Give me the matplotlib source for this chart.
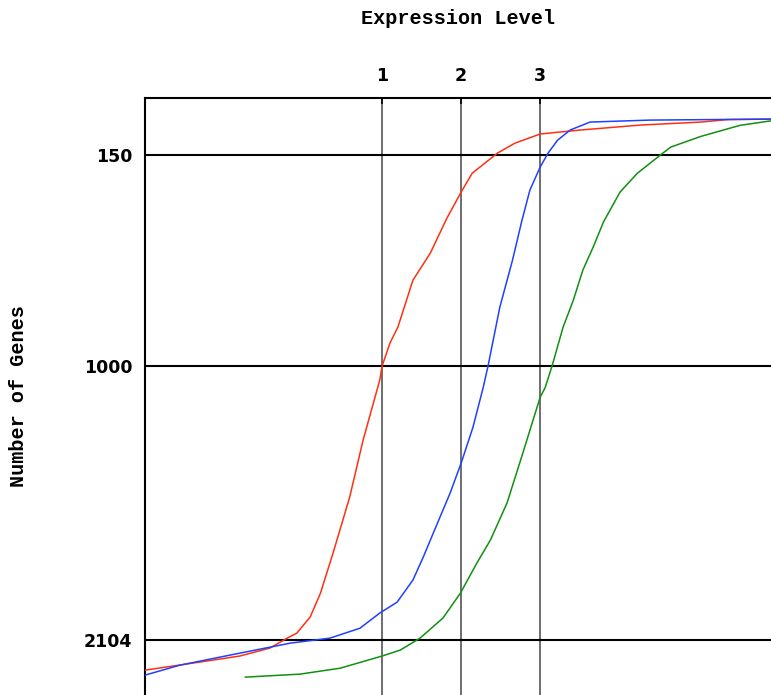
import matplotlib
matplotlib.use('Agg')
import matplotlib.pyplot as plt

# cumulative gene counts against expression level, one curve per sample
red_x = [-2.0, -1.30, -0.80, -0.42, -0.20, -0.08, 0.09, 0.22, 0.38, 0.59, 0.76, 0.97,
         1.0, 1.10, 1.20, 1.39, 1.61, 1.82, 2.0, 2.14, 2.46, 2.68, 3.0, 3.51, 4.27,
         5.03, 5.37, 5.92]
red_n = [2225, 2192, 2168, 2136, 2096, 2076, 2011, 1915, 1753, 1528, 1298, 1057,
         1000, 907, 843, 654, 545, 404, 299, 223, 142, 102, 65, 49, 29,
         17, 7, 5]

blue_x = [-2.0, -1.56, -0.92, -0.16, 0.34, 0.72, 0.97, 1.19, 1.39, 1.52, 1.70, 1.86,
          2.0, 2.15, 2.28, 2.34, 2.49, 2.65, 2.77, 2.87, 3.0, 3.10, 3.22, 3.38,
          3.63, 4.39, 5.92]
blue_n = [2245, 2205, 2164, 2116, 2096, 2056, 1995, 1951, 1862, 1770, 1633, 1512,
          1391, 1246, 1085, 1000, 762, 573, 412, 291, 198, 142, 90, 49,
          17, 9, 5]

green_x = [-0.73, -0.04, 0.47, 1.0, 1.23, 1.48, 1.77, 1.99, 2.20, 2.37, 2.58, 2.78,
           3.0, 3.06, 3.15, 3.29, 3.42, 3.54, 3.67, 3.80, 4.01, 4.23, 4.52, 4.65,
           5.03, 5.53, 5.92]
green_n = [2253, 2241, 2217, 2168, 2144, 2096, 2015, 1915, 1793, 1701, 1552, 1351,
           1125, 1089, 1000, 843, 734, 613, 521, 420, 299, 223, 150, 118,
           75, 30, 12]

x_ticks = [1, 2, 3]
y_ticks = [150, 1000, 2104]

fig = plt.figure(figsize=(7.71, 6.95), dpi=100)
ax = fig.add_axes([0.188, 0.0, 0.812, 0.859])

for xv in x_ticks:
    ax.axvline(xv, color='#555555', lw=1.2, zorder=1)
for yv in y_ticks:
    ax.axhline(yv, color='black', lw=1.5, zorder=1)

ax.plot(red_x, red_n, color='#ff3010', lw=1.1, zorder=3)
ax.plot(blue_x, blue_n, color='#2040ff', lw=1.1, zorder=3)
ax.plot(green_x, green_n, color='#109010', lw=1.1, zorder=3)

ax.set_xlim(-2.0, 5.92)
ax.set_ylim(2325, -80)

ax.xaxis.tick_top()
ax.xaxis.set_label_position('top')
ax.set_xticks(x_ticks)
ax.set_yticks(y_ticks)
ax.tick_params(axis='both', direction='in', length=4, width=1.2,
               labelsize=12.5, pad=9)
for lab in ax.get_xticklabels() + ax.get_yticklabels():
    lab.set_fontweight('bold')
    lab.set_family('DejaVu Sans')

ax.spines['right'].set_visible(False)
ax.spines['bottom'].set_visible(False)
ax.spines['top'].set_linewidth(1.5)
ax.spines['left'].set_linewidth(1.5)

mono = {'family': 'Liberation Mono', 'weight': 'bold', 'size': 14.5}
ax.set_xlabel('Expression Level', fontdict=mono, labelpad=31)
ax.set_ylabel('Number of Genes', fontdict=mono, labelpad=40)

fig.savefig('out.png', dpi=100)
